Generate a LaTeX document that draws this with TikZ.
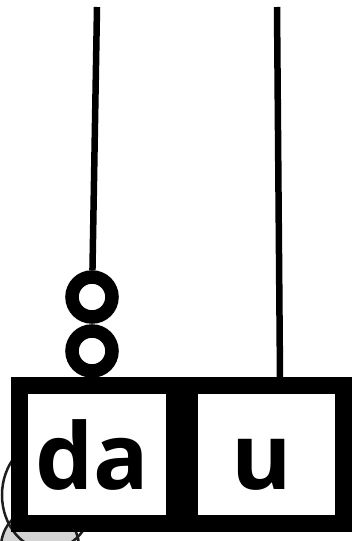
\documentclass[tikz,border=0pt]{standalone}
\usepackage{fontspec}
\setsansfont{Open Sans}
\usetikzlibrary{positioning, fit, backgrounds}
\definecolor{cshade}{HTML}{D4D4D4}
\definecolor{cedge}{HTML}{1E1E1E}
\tikzset{
  every picture/.style={font=\sffamily\bfseries},
  wire/.style={draw=black, line width=6.5pt},
  ring/.style={circle, draw=black, line width=13.5pt, minimum size=40pt, inner sep=0pt},
  cell/.style={fill=white, minimum width=138pt, minimum height=121pt, inner sep=0pt},
  celltext/.style={inner sep=0pt, text height=70pt, text depth=0pt, xshift=-5pt, font=\sffamily\bfseries\fontsize{92}{92}\selectfont},
  frame/.style={fill=black, inner sep=16.5pt},
  blob/.style={draw=cedge, line width=2.5pt},
}

\begin{document}
\begin{tikzpicture}[x=1pt, y=-1pt]
  \useasboundingbox (0,0) rectangle (358,541);
  % the two cells
  \node[cell, label={[celltext, name=datext]center:da}] (da) at (97,454.5) {};
  \node[cell, minimum width=137pt, label={[celltext, name=utext]center:u}] (u) at (266.5,454.5) {};
  % rings on the left wire
  \node[ring] (ring1) at (92,297) {};
  \node[ring] (ring2) at (92,351) {};
  \coordinate (datop) at (97,7);
  \coordinate (utop) at (277,7);
  \coordinate (ujoin) at (280,377.5);
  \draw[wire] (datop) -- (ring1);
  \draw[wire] (utop) -- (ujoin);
  % frame and the shapes behind it
  \begin{scope}[on background layer]
    \draw[blob, fill=cshade] (40,547) circle[radius=39pt];
    \draw[blob] (48,495) ellipse[x radius=46pt, y radius=55pt];
    \node[frame, fit=(da)(u)] (frame) {};
  \end{scope}
\end{tikzpicture}
\end{document}
